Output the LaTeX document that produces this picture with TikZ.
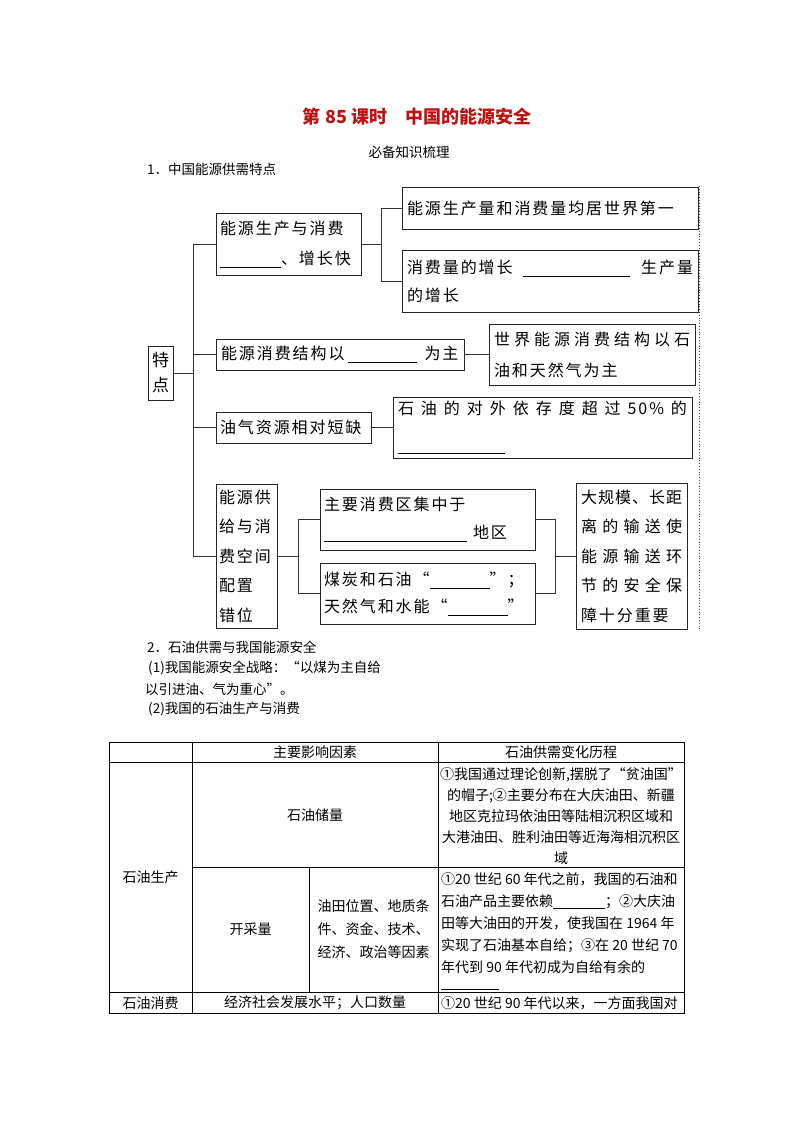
\documentclass[tikz,border=0pt]{standalone}
\usepackage{fontspec}
\setmainfont{Noto Sans CJK SC}
\newfontfamily\wfont[LetterSpace=12]{Noto Sans CJK SC}
\definecolor{titlered}{RGB}{190,18,18}
\newcommand\blank[1]{\rule[-3pt]{#1}{0.6pt}}
\newcommand\jl[2]{\leavevmode\hbox to #1{\spaceskip=0pt plus 1fil\relax #2}}
\begin{document}
\begin{tikzpicture}[x=1pt,y=-1pt,
  bx/.style={draw=black!85, line width=0.8pt, inner xsep=5pt, inner ysep=0pt, align=left},
  conn/.style={draw=black!80, line width=0.8pt},
  tl/.style={draw=black, line width=0.8pt},
  tt/.style={inner sep=0pt, font=\fontsize{14}{21}\selectfont},
  hd/.style={inner sep=0pt, anchor=west, font=\fontsize{13.5}{21}\selectfont}]
\fill[white] (0,0) rectangle (794,1123);
\useasboundingbox (0,0) rectangle (794,1123);

% headings
\node[inner sep=0pt, font=\fontsize{18}{22}\selectfont\bfseries, text=titlered] (title) at (417,117) {第 85 课时\quad 中国的能源安全};
\node[inner sep=0pt, font=\fontsize{13.5}{18}\selectfont] (sub) at (409,152) {必备知识梳理};
\node[hd] (s1) at (147,169) {1．中国能源供需特点};

% diagram boxes
\node[bx, minimum width=25pt, text width=25pt, inner xsep=0pt, minimum height=54pt, align=center, font=\wfont\fontsize{17}{25}\selectfont] (T) at (160.5,373) {特\\点};
\node[bx, minimum width=145pt, text width=137pt, inner xsep=4pt, minimum height=62pt, font=\wfont\fontsize{16}{30}\selectfont] (A) at (288.5,244) {能源生产与消费\\\blank{61pt}、增长快};
\node[bx, minimum width=296pt, text width=286pt, minimum height=42pt, font=\wfont\fontsize{16}{28}\selectfont] (B1) at (550,208) {能源生产量和消费量均居世界第一};
\node[bx, minimum width=296pt, text width=286pt, minimum height=62pt, font=\wfont\fontsize{16}{28}\selectfont] (B2) at (550,281) {\jl{286pt}{消费量的增长 \blank{107pt} 生产量}\\的增长};
\node[bx, minimum width=248pt, text width=238pt, minimum height=31pt, font=\wfont\fontsize{16}{28}\selectfont] (C) at (340,354.5) {能源消费结构以\hspace{3pt}\blank{69pt}\hspace{8pt}为主};
\node[bx, minimum width=206pt, text width=196pt, minimum height=61pt, font=\wfont\fontsize{16}{31}\selectfont] (C2) at (592,354.5) {\jl{196pt}{世 界 能 源 消 费 结 构 以 石}\\油和天然气为主};
\node[bx, minimum width=155pt, text width=147pt, inner xsep=4pt, minimum height=31pt, font=\wfont\fontsize{16}{28}\selectfont] (D) at (293.5,427.5) {油气资源相对短缺};
\node[bx, minimum width=299pt, text width=289pt, minimum height=61pt, font=\wfont\fontsize{16}{36}\selectfont] (D2) at (542.5,427.5) {\jl{289pt}{石 油 的 对 外 依 存 度 超 过 50\% 的}\\\blank{107pt}};
\node[bx, minimum width=61pt, text width=55pt, inner xsep=3pt, minimum height=144pt, font=\wfont\fontsize{16}{29.5}\selectfont] (E) at (246.5,556) {能源供\\给与消\\费空间\\配置\\错位};
\node[bx, minimum width=215pt, text width=207pt, inner xsep=4pt, minimum height=61pt, font=\wfont\fontsize{16}{28}\selectfont] (F1) at (427.5,519.5) {主要消费区集中于\\\blank{143pt}\hspace{6pt}地区};
\node[bx, minimum width=215pt, text width=207pt, inner xsep=4pt, minimum height=61pt, font=\wfont\fontsize{16}{27}\selectfont] (F2) at (427.5,593.5) {煤炭和石油“\blank{60pt}”；\\天然气和水能“\blank{60pt}”};
\node[bx, minimum width=111pt, text width=101pt, minimum height=146pt, font=\wfont\fontsize{16}{29.5}\selectfont] (G) at (631.5,556) {\jl{101pt}{大 规 模 、 长 距}\\\jl{101pt}{离 的 输 送 使}\\\jl{101pt}{能 源 输 送 环}\\\jl{101pt}{节 的 安 全 保}\\障十分重要};

% connectors
\draw[conn] (A.west) -- ++(-22,0) coordinate (tA) |- (E.west);
\draw[conn] (T.east) -- (T.east -| tA);
\draw[conn] (C.west) -- (C.west -| tA);
\draw[conn] (D.west) -- (D.west -| tA);
\draw[conn] (A.east) -- ++(20,0) coordinate (bA);
\draw[conn] (B1.west) -| (bA) |- (B2.west);
\draw[conn] (C.east) -- (C2.west);
\draw[conn] (D.east) -- (D2.west);
\draw[conn] (E.east) -- ++(21,0) coordinate (bE);
\draw[conn] (F1.west) -| (bE) |- (F2.west);
\draw[conn] (G.west) -- ++(-20,0) coordinate (bG);
\draw[conn] (F1.east) -| (bG) |- (F2.east);
\draw[dotted, line width=0.8pt, black!75] (699.5,186) -- (699.5,630);

% section 2
\node[hd] (s2) at (147,647) {2．石油供需与我国能源安全};
\node[hd] (s21) at (148,668) {(1)我国能源安全战略：“以煤为主自给};
\node[hd] (s21b) at (145,689) {以引进油、气为重心”。};
\node[hd] (s22) at (148,709) {(2)我国的石油生产与消费};

% table
\draw[tl] (109,742) rectangle (684,1013);
\draw[tl] (109,762) -- (684,762);
\draw[tl] (192,867) -- (684,867);
\draw[tl] (109,992) -- (684,992);
\draw[tl] (192,742) -- (192,1013);
\draw[tl] (438,742) -- (438,1013);
\draw[tl] (309,867) -- (309,992);

\node[tt] (h1) at (315,752) {主要影响因素};
\node[tt] (h2) at (561,752) {石油供需变化历程};
\node[tt] (cl) at (315,815) {石油储量};
\node[tt, align=center] (cr) at (561,816) {①我国通过理论创新,摆脱了“贫油国”\\的帽子;②主要分布在大庆油田、新疆\\地区克拉玛依油田等陆相沉积区域和\\大港油田、胜利油田等近海海相沉积区\\域};
\node[tt] (sc) at (150.5,877) {石油生产};
\node[tt] (kc) at (250.5,929.5) {开采量};
\node[tt, align=center, font=\fontsize{14}{23}\selectfont] (yt) at (373.5,929) {油田位置、地质条\\件、资金、技术、\\经济、政治等因素};
\node[tt, align=left, anchor=north west, font=\fontsize{14}{22}\selectfont] (kr) at (441,872) {①20 世纪 60 年代之前，我国的石油和\\石油产品主要依赖\blank{52pt}；②大庆油\\田等大油田的开发，使我国在 1964 年\\实现了石油基本自给；③在 20 世纪 70\\年代到 90 年代初成为自给有余的\\[-7pt]\blank{58pt}};
\node[tt] (xf) at (150.5,1003) {石油消费};
\node[tt] (jj) at (315,1003) {经济社会发展水平；人口数量};
\node[tt, anchor=west] (xr) at (441,1003) {①20 世纪 90 年代以来，一方面我国对};
\end{tikzpicture}
\end{document}
